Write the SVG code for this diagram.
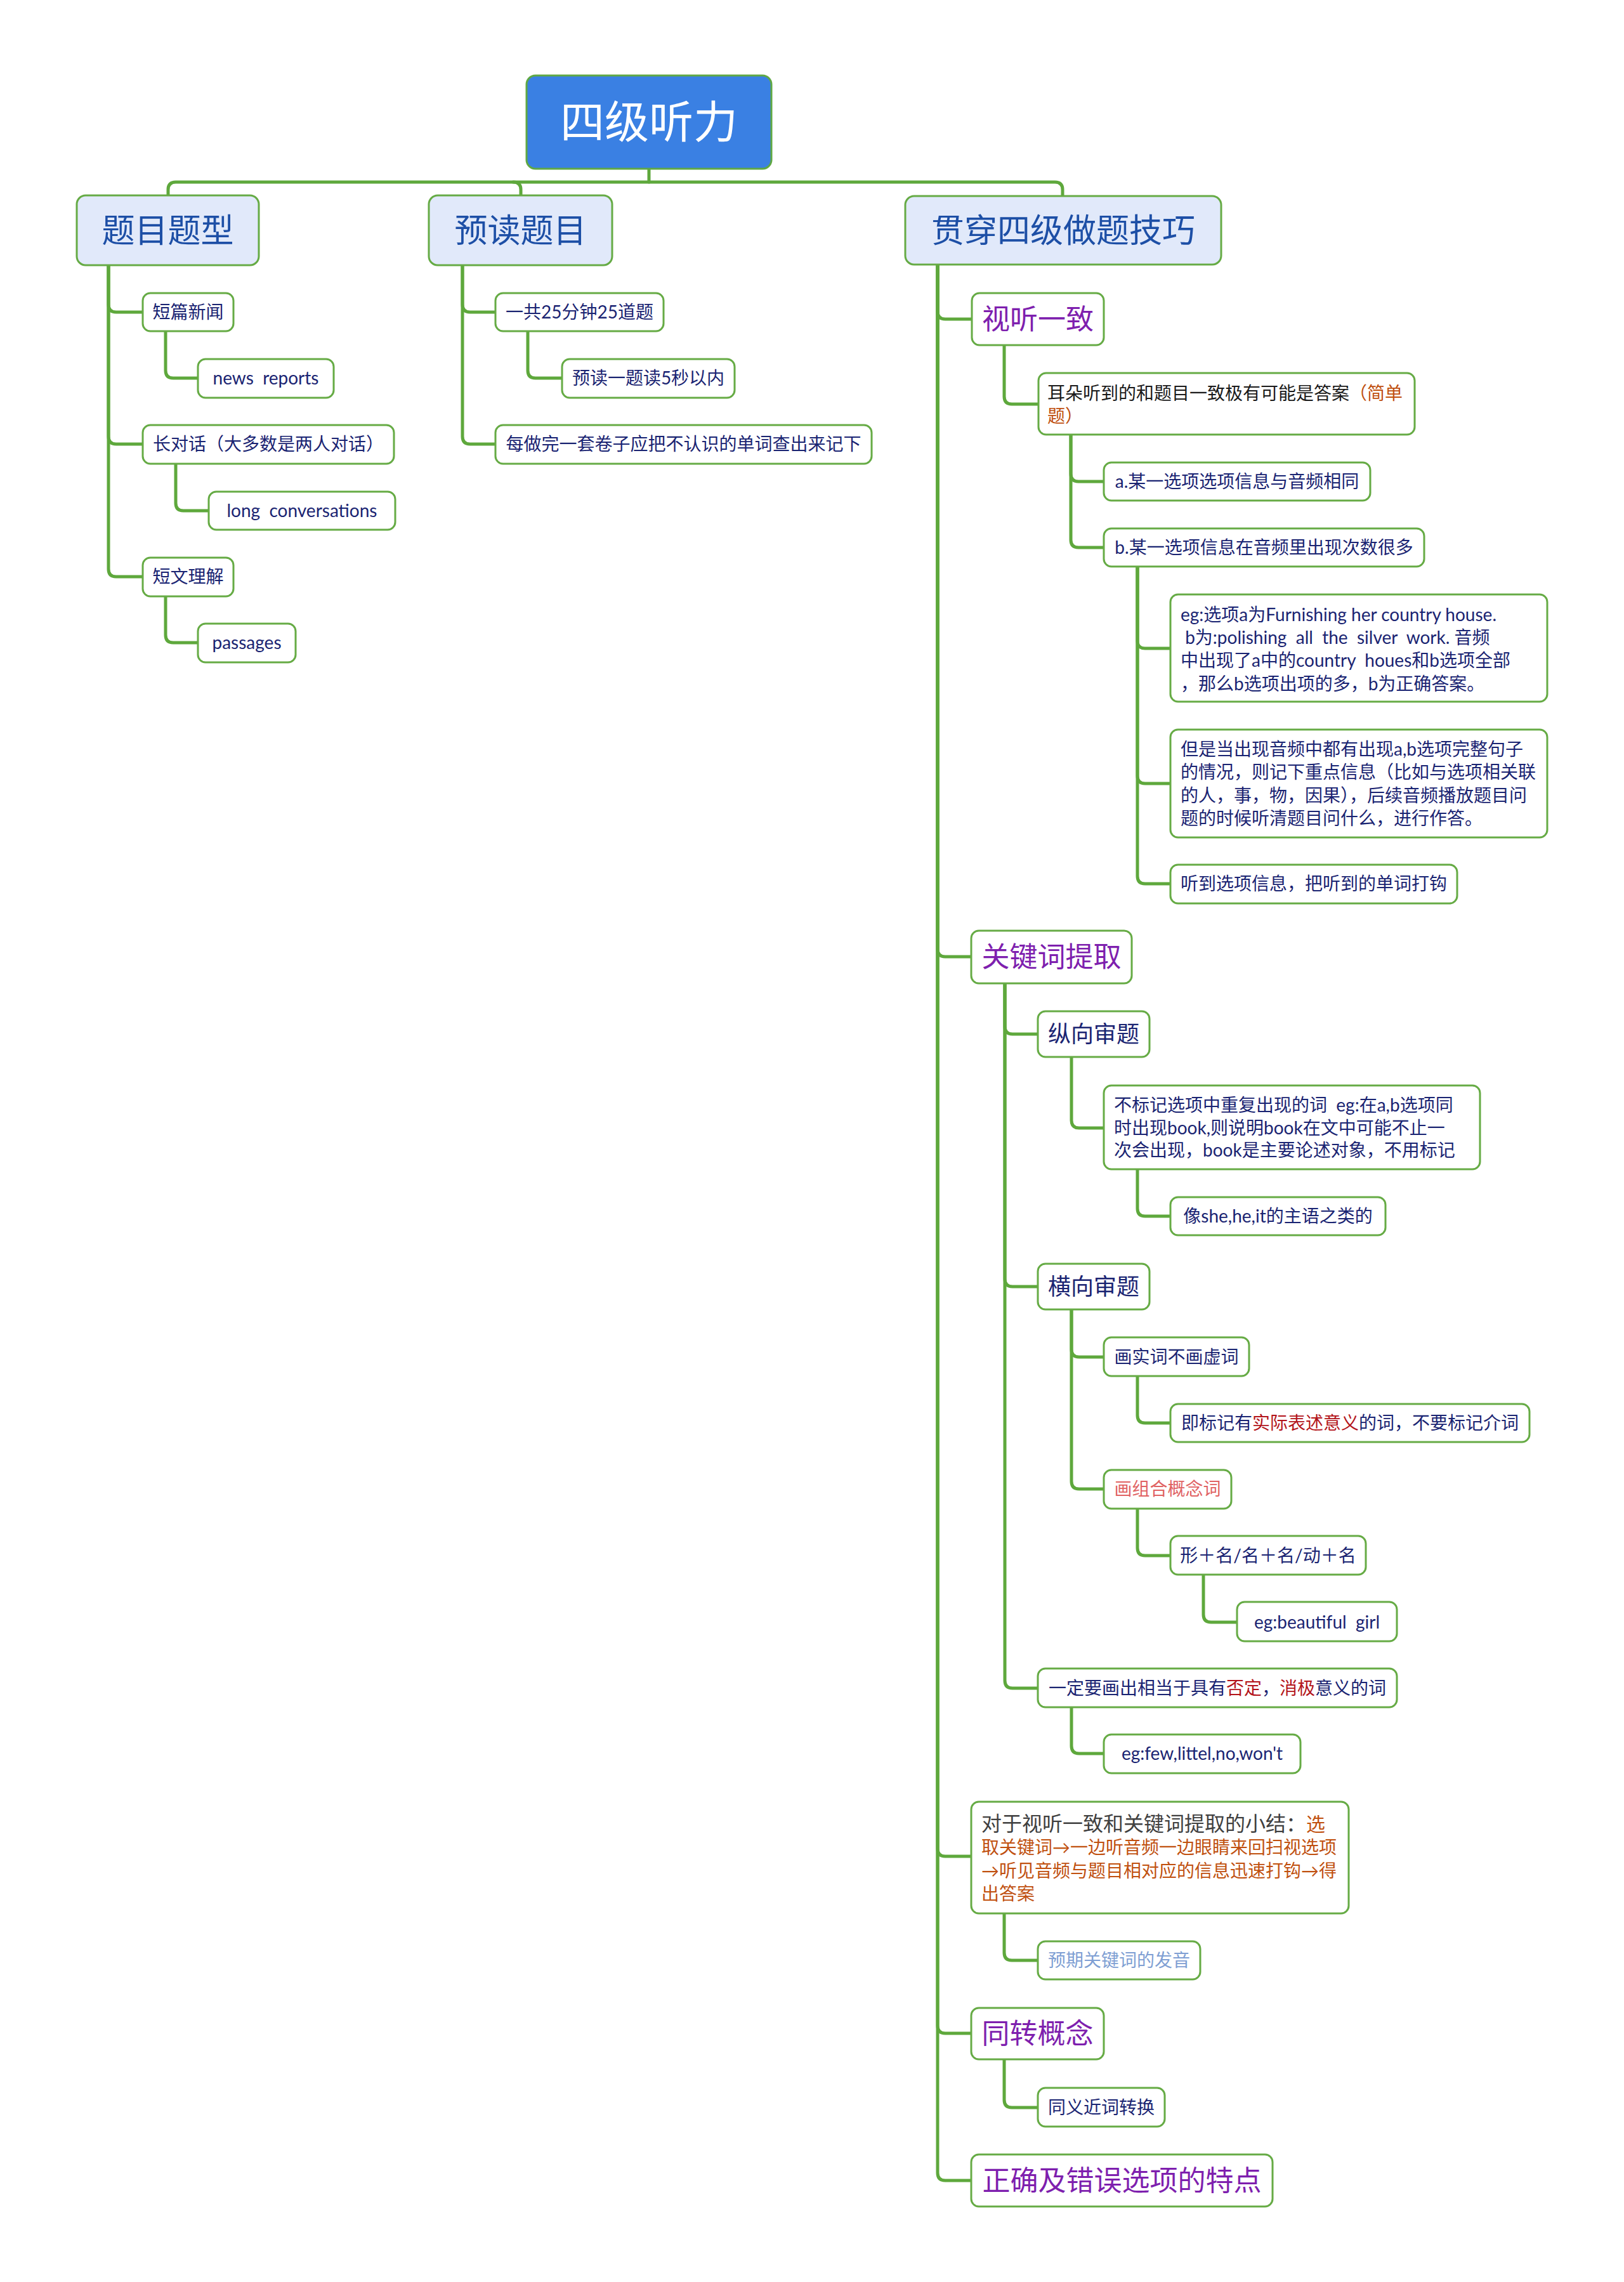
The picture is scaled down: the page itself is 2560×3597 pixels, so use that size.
<svg xmlns="http://www.w3.org/2000/svg" width="2560" height="3597" viewBox="0 0 2560 3597">
<style>
.bg{fill:#ffffff}
.box{fill:#ffffff;stroke:#66ab45;stroke-width:3}
.l1b{fill:#e1e9fa;stroke:#66ab45;stroke-width:3}
.rootb{fill:#3a80e3;stroke:#5fa844;stroke-width:3}
.conn{fill:none;stroke:#5ea83c;stroke-width:5;stroke-linecap:round}
text{font-family:Lato,"Noto Sans CJK SC",sans-serif}
.t0{font-size:70px;fill:#ffffff}
.t1{font-size:52px;fill:#1d4fa6}
.t2{font-size:44px;fill:#7e1fae}
.t3{font-size:36px;fill:#1a2472}
.t{font-size:28px;fill:#1a2472;white-space:pre}
.c{text-anchor:middle}
.blk{fill:#1a1a1a}
.gry{fill:#404040}
.org{fill:#c0500f}
.red{fill:#b3141a}
.sal{fill:#e06262}
.lbl{fill:#7f9fd3}
</style>
<rect class="bg" x="0" y="0" width="2560" height="3597"/>
<g id="connectors">
<path class="conn" d="M1023 266 V287"/>
<path class="conn" d="M265 308 V299 Q265 287 277 287 H1663 Q1675 287 1675 299 V309"/>
<path class="conn" d="M809 287 Q821 287 821 299 V308"/>
<path class="conn" d="M171 418 V480 Q171 492 183 492 H225"/>
<path class="conn" d="M171 418 V688 Q171 700 183 700 H225"/>
<path class="conn" d="M171 418 V897 Q171 909 183 909 H225"/>
<path class="conn" d="M261 522 V584 Q261 596 273 596 H312"/>
<path class="conn" d="M277 731 V793 Q277 805 289 805 H329"/>
<path class="conn" d="M261 940 V1001 Q261 1013 273 1013 H312"/>
<path class="conn" d="M729 418 V480 Q729 492 741 492 H781"/>
<path class="conn" d="M729 418 V688 Q729 700 741 700 H781"/>
<path class="conn" d="M832 522 V584 Q832 596 844 596 H886"/>
<path class="conn" d="M1478 417 V491 Q1478 503 1490 503 H1532"/>
<path class="conn" d="M1478 417 V1496 Q1478 1508 1490 1508 H1531"/>
<path class="conn" d="M1478 417 V2914 Q1478 2926 1490 2926 H1531"/>
<path class="conn" d="M1478 417 V3193 Q1478 3205 1490 3205 H1531"/>
<path class="conn" d="M1478 417 V3425 Q1478 3437 1490 3437 H1531"/>
<path class="conn" d="M1583 544 V625 Q1583 637 1595 637 H1637"/>
<path class="conn" d="M1688 685 V747 Q1688 759 1700 759 H1740"/>
<path class="conn" d="M1688 685 V851 Q1688 863 1700 863 H1740"/>
<path class="conn" d="M1793 893 V1010 Q1793 1022 1805 1022 H1845"/>
<path class="conn" d="M1793 893 V1223 Q1793 1235 1805 1235 H1845"/>
<path class="conn" d="M1793 893 V1381 Q1793 1393 1805 1393 H1845"/>
<path class="conn" d="M1584 1550 V1618 Q1584 1630 1596 1630 H1636"/>
<path class="conn" d="M1584 1550 V2016 Q1584 2028 1596 2028 H1636"/>
<path class="conn" d="M1584 1550 V2649 Q1584 2661 1596 2661 H1636"/>
<path class="conn" d="M1689 1666 V1766 Q1689 1778 1701 1778 H1740"/>
<path class="conn" d="M1793 1843 V1905 Q1793 1917 1805 1917 H1845"/>
<path class="conn" d="M1689 2064 V2127 Q1689 2139 1701 2139 H1740"/>
<path class="conn" d="M1689 2064 V2335 Q1689 2347 1701 2347 H1740"/>
<path class="conn" d="M1793 2169 V2231 Q1793 2243 1805 2243 H1845"/>
<path class="conn" d="M1793 2378 V2440 Q1793 2452 1805 2452 H1845"/>
<path class="conn" d="M1897 2482 V2545 Q1897 2557 1909 2557 H1950"/>
<path class="conn" d="M1689 2691 V2752 Q1689 2764 1701 2764 H1740"/>
<path class="conn" d="M1583 3016 V3078 Q1583 3090 1595 3090 H1636"/>
<path class="conn" d="M1583 3246 V3310 Q1583 3322 1595 3322 H1636"/>
</g>
<g id="root"><rect class="rootb" x="830" y="119" width="386" height="147" rx="14"/><text class="t0 c" x="1023" y="218">四级听力</text></g>
<g id="n-timu"><rect class="l1b" x="121" y="308" width="287" height="110" rx="14"/><text class="t1 c" x="264.5" y="382">题目题型</text></g>
<g id="n-yudu"><rect class="l1b" x="676" y="308" width="289" height="110" rx="14"/><text class="t1 c" x="820.5" y="382">预读题目</text></g>
<g id="n-guanchuan"><rect class="l1b" x="1427" y="309" width="498" height="108" rx="14"/><text class="t1 c" x="1676" y="382">贯穿四级做题技巧</text></g>
<g id="n-duanpian"><rect class="box" x="225" y="462" width="143" height="60" rx="12"/><text class="t c" x="296.5" y="502">短篇新闻</text></g>
<g id="n-news"><rect class="box" x="312" y="566" width="214" height="61" rx="12"/><text class="t c" x="419" y="606">news  reports</text></g>
<g id="n-changduihua"><rect class="box" x="225" y="670" width="396" height="61" rx="12"/><text class="t c" x="423" y="710">长对话（大多数是两人对话）</text></g>
<g id="n-long"><rect class="box" x="329" y="775" width="294" height="60" rx="12"/><text class="t c" x="476" y="815">long  conversations</text></g>
<g id="n-duanwen"><rect class="box" x="225" y="879" width="143" height="61" rx="12"/><text class="t c" x="296.5" y="919">短文理解</text></g>
<g id="n-passages"><rect class="box" x="312" y="983" width="154" height="61" rx="12"/><text class="t c" x="389" y="1023">passages</text></g>
<g id="n-yigong"><rect class="box" x="781" y="462" width="265" height="60" rx="12"/><text class="t c" x="913.5" y="502">一共25分钟25道题</text></g>
<g id="n-yudu5"><rect class="box" x="886" y="566" width="272" height="61" rx="12"/><text class="t c" x="1022" y="606">预读一题读5秒以内</text></g>
<g id="n-meizuo"><rect class="box" x="781" y="670" width="593" height="61" rx="12"/><text class="t c" x="1077.5" y="710">每做完一套卷子应把不认识的单词查出来记下</text></g>
<g id="n-shiting"><rect class="box" x="1532" y="462" width="208" height="82" rx="12"/><text class="t2 c" x="1636" y="519">视听一致</text></g>
<g id="n-erduo"><rect class="box" x="1637" y="588" width="593" height="97" rx="12"/><text class="t" x="1651" y="630"><tspan class="blk">耳朵听到的和题目一致极有可能是答案</tspan><tspan class="org">（简单</tspan></text><text class="t org" x="1651" y="666">题）</text></g>
<g id="n-a"><rect class="box" x="1740" y="729" width="420" height="60" rx="12"/><text class="t c" x="1950" y="769">a.某一选项选项信息与音频相同</text></g>
<g id="n-b"><rect class="box" x="1740" y="833" width="505" height="60" rx="12"/><text class="t c" x="1992.5" y="873">b.某一选项信息在音频里出现次数很多</text></g>
<g id="n-eg1"><rect class="box" x="1845" y="937" width="594" height="169" rx="12"/><text class="t" x="1861" y="979">eg:选项a为Furnishing her country house.</text><text class="t" x="1861" y="1015"> b为:polishing  all  the  silver  work. 音频</text><text class="t" x="1861" y="1051">中出现了a中的country  houes和b选项全部</text><text class="t" x="1861" y="1088">，那么b选项出项的多，b为正确答案。</text></g>
<g id="n-danshi"><rect class="box" x="1845" y="1150" width="594" height="170" rx="12"/><text class="t" x="1861" y="1191">但是当出现音频中都有出现a,b选项完整句子</text><text class="t" x="1861" y="1227">的情况，则记下重点信息（比如与选项相关联</text><text class="t" x="1861" y="1264">的人，事，物，因果），后续音频播放题目问</text><text class="t" x="1861" y="1300">题的时候听清题目问什么，进行作答。</text></g>
<g id="n-tingdao"><rect class="box" x="1845" y="1363" width="452" height="61" rx="12"/><text class="t c" x="2071" y="1403">听到选项信息，把听到的单词打钩</text></g>
<g id="n-guanjianci"><rect class="box" x="1531" y="1467" width="253" height="83" rx="12"/><text class="t2 c" x="1657.5" y="1524">关键词提取</text></g>
<g id="n-zongxiang"><rect class="box" x="1636" y="1594" width="176" height="72" rx="12"/><text class="t3 c" x="1724" y="1643">纵向审题</text></g>
<g id="n-bubiaoji"><rect class="box" x="1740" y="1711" width="593" height="132" rx="12"/><text class="t" x="1756" y="1752">不标记选项中重复出现的词  eg:在a,b选项同</text><text class="t" x="1756" y="1788">时出现book,则说明book在文中可能不止一</text><text class="t" x="1756" y="1823">次会出现，book是主要论述对象，不用标记</text></g>
<g id="n-she"><rect class="box" x="1845" y="1887" width="339" height="60" rx="12"/><text class="t c" x="2014.5" y="1927">像she,he,it的主语之类的</text></g>
<g id="n-hengxiang"><rect class="box" x="1636" y="1992" width="176" height="72" rx="12"/><text class="t3 c" x="1724" y="2041">横向审题</text></g>
<g id="n-shici"><rect class="box" x="1740" y="2108" width="229" height="61" rx="12"/><text class="t c" x="1854.5" y="2149">画实词不画虚词</text></g>
<g id="n-jibiaoji"><rect class="box" x="1845" y="2213" width="566" height="60" rx="12"/><text class="t c" x="2128" y="2253">即标记有<tspan class="red">实际表述意义</tspan>的词，不要标记介词</text></g>
<g id="n-zuhe"><rect class="box" x="1740" y="2317" width="201" height="61" rx="12"/><text class="t c sal" x="1840.5" y="2357">画组合概念词</text></g>
<g id="n-xing"><rect class="box" x="1845" y="2421" width="308" height="61" rx="12"/><text class="t c" x="1999" y="2462">形＋名/名＋名/动＋名</text></g>
<g id="n-beautiful"><rect class="box" x="1950" y="2525" width="252" height="62" rx="12"/><text class="t c" x="2076" y="2567">eg:beautiful  girl</text></g>
<g id="n-yiding"><rect class="box" x="1636" y="2630" width="566" height="61" rx="12"/><text class="t c" x="1919" y="2671">一定要画出相当于具有<tspan class="red">否定</tspan>，<tspan class="red">消极</tspan>意义的词</text></g>
<g id="n-few"><rect class="box" x="1740" y="2734" width="310" height="61" rx="12"/><text class="t c" x="1895" y="2774">eg:few,littel,no,won't</text></g>
<g id="n-xiaojie"><rect class="box" x="1531" y="2840" width="595" height="176" rx="12"/><text class="t" x="1547" y="2886"><tspan class="gry" style="font-size:32px">对于视听一致和关键词提取的小结：</tspan><tspan class="org" style="font-size:30px">选</tspan></text><text class="t org" x="1547" y="2922">取关键词→一边听音频一边眼睛来回扫视选项</text><text class="t org" x="1547" y="2959">→听见音频与题目相对应的信息迅速打钩→得</text><text class="t org" x="1547" y="2995">出答案</text></g>
<g id="n-fayin"><rect class="box" x="1636" y="3060" width="256" height="60" rx="12"/><text class="t c lbl" x="1764" y="3100">预期关键词的发音</text></g>
<g id="n-tongzhuan"><rect class="box" x="1531" y="3165" width="209" height="81" rx="12"/><text class="t2 c" x="1635.5" y="3221">同转概念</text></g>
<g id="n-tongyi"><rect class="box" x="1636" y="3291" width="200" height="61" rx="12"/><text class="t c" x="1736" y="3332">同义近词转换</text></g>
<g id="n-zhengque"><rect class="box" x="1531" y="3396" width="475" height="82" rx="12"/><text class="t2 c" x="1768.5" y="3453">正确及错误选项的特点</text></g>
</svg>
